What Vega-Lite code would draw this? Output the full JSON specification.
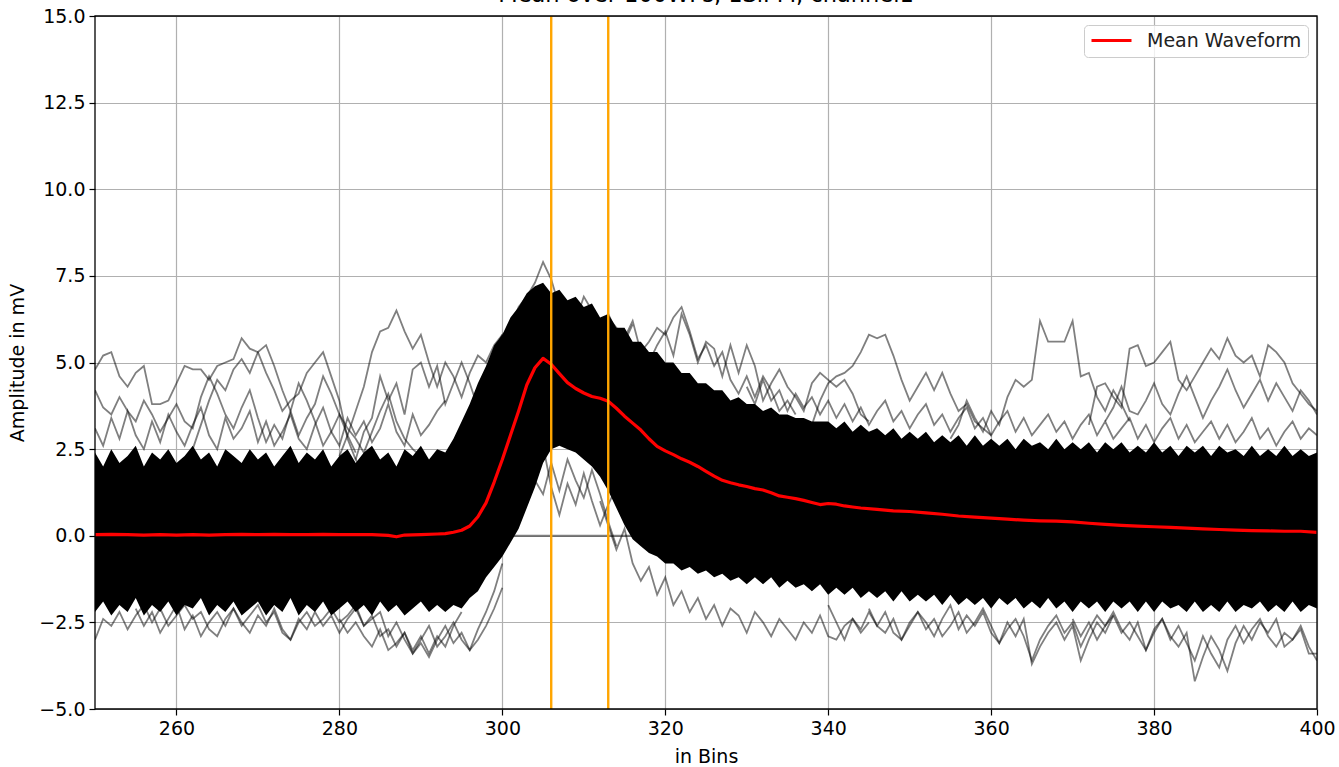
{
"$schema": "https://vega.github.io/schema/vega-lite/v6.json",
"autosize": "none",
"width": 1222,
"height": 693,
"padding": {"left": 95, "top": 16, "right": 22, "bottom": 58},
"background": "white",
"title": {"text": "Mean over 100WFs, 1SiPM, channel1", "fontSize": 22.5, "fontWeight": "normal", "font": "DejaVu Sans", "color": "black", "anchor": "middle", "offset": 0, "dy": 17, "baseline": "alphabetic"},
"datasets": {
"band": [
{"b":250,"lo":-2.2,"hi":2.4},{"b":251,"lo":-1.9,"hi":2.0},{"b":252,"lo":-2.3,"hi":2.5},{"b":253,"lo":-2.0,"hi":2.1},{"b":254,"lo":-2.2,"hi":2.3},{"b":255,"lo":-1.8,"hi":2.6},{"b":256,"lo":-2.3,"hi":2.0},{"b":257,"lo":-2.0,"hi":2.4},{"b":258,"lo":-2.2,"hi":2.2},{"b":259,"lo":-1.9,"hi":2.5},
{"b":260,"lo":-2.3,"hi":2.1},{"b":261,"lo":-2.0,"hi":2.3},{"b":262,"lo":-2.1,"hi":2.6},{"b":263,"lo":-1.8,"hi":2.2},{"b":264,"lo":-2.3,"hi":2.4},{"b":265,"lo":-2.0,"hi":2.0},{"b":266,"lo":-2.2,"hi":2.5},{"b":267,"lo":-1.9,"hi":2.3},{"b":268,"lo":-2.3,"hi":2.1},{"b":269,"lo":-2.1,"hi":2.5},
{"b":270,"lo":-1.9,"hi":2.2},{"b":271,"lo":-2.3,"hi":2.4},{"b":272,"lo":-2.0,"hi":2.0},{"b":273,"lo":-2.2,"hi":2.3},{"b":274,"lo":-1.8,"hi":2.6},{"b":275,"lo":-2.3,"hi":2.1},{"b":276,"lo":-2.0,"hi":2.4},{"b":277,"lo":-2.2,"hi":2.2},{"b":278,"lo":-1.9,"hi":2.5},{"b":279,"lo":-2.3,"hi":2.0},
{"b":280,"lo":-2.1,"hi":2.3},{"b":281,"lo":-1.9,"hi":2.5},{"b":282,"lo":-2.2,"hi":2.1},{"b":283,"lo":-2.0,"hi":2.4},{"b":284,"lo":-2.3,"hi":2.6},{"b":285,"lo":-1.9,"hi":2.2},{"b":286,"lo":-2.2,"hi":2.4},{"b":287,"lo":-2.0,"hi":2.0},{"b":288,"lo":-2.3,"hi":2.5},{"b":289,"lo":-2.1,"hi":2.3},
{"b":290,"lo":-1.9,"hi":2.6},{"b":291,"lo":-2.2,"hi":2.2},{"b":292,"lo":-2.0,"hi":2.5},{"b":293,"lo":-2.2,"hi":2.4},{"b":294,"lo":-2.0,"hi":2.8},{"b":295,"lo":-2.1,"hi":3.3},{"b":296,"lo":-1.8,"hi":3.8},{"b":297,"lo":-1.6,"hi":4.4},{"b":298,"lo":-1.2,"hi":4.9},{"b":299,"lo":-0.9,"hi":5.5},
{"b":300,"lo":-0.6,"hi":5.8},{"b":301,"lo":-0.2,"hi":6.3},{"b":302,"lo":0.2,"hi":6.6},{"b":303,"lo":0.8,"hi":7.0},{"b":304,"lo":1.4,"hi":7.2},{"b":305,"lo":2.1,"hi":7.3},{"b":306,"lo":2.5,"hi":7.0},{"b":307,"lo":2.6,"hi":7.1},{"b":308,"lo":2.5,"hi":6.8},{"b":309,"lo":2.4,"hi":6.9},
{"b":310,"lo":2.2,"hi":6.6},{"b":311,"lo":2.0,"hi":6.7},{"b":312,"lo":1.7,"hi":6.3},{"b":313,"lo":1.3,"hi":6.4},{"b":314,"lo":0.8,"hi":6.0},{"b":315,"lo":0.3,"hi":6.0},{"b":316,"lo":-0.1,"hi":5.6},{"b":317,"lo":-0.3,"hi":5.6},{"b":318,"lo":-0.5,"hi":5.3},{"b":319,"lo":-0.6,"hi":5.3},
{"b":320,"lo":-0.8,"hi":5.0},{"b":321,"lo":-0.8,"hi":5.0},{"b":322,"lo":-1.0,"hi":4.7},{"b":323,"lo":-0.9,"hi":4.7},{"b":324,"lo":-1.1,"hi":4.4},{"b":325,"lo":-1.0,"hi":4.4},{"b":326,"lo":-1.2,"hi":4.2},{"b":327,"lo":-1.1,"hi":4.2},{"b":328,"lo":-1.3,"hi":3.9},{"b":329,"lo":-1.2,"hi":4.0},
{"b":330,"lo":-1.4,"hi":3.8},{"b":331,"lo":-1.2,"hi":3.8},{"b":332,"lo":-1.4,"hi":3.6},{"b":333,"lo":-1.2,"hi":3.7},{"b":334,"lo":-1.5,"hi":3.5},{"b":335,"lo":-1.3,"hi":3.5},{"b":336,"lo":-1.5,"hi":3.4},{"b":337,"lo":-1.4,"hi":3.4},{"b":338,"lo":-1.6,"hi":3.3},{"b":339,"lo":-1.4,"hi":3.3},
{"b":340,"lo":-1.7,"hi":3.3},{"b":341,"lo":-1.5,"hi":3.1},{"b":342,"lo":-1.7,"hi":3.3},{"b":343,"lo":-1.5,"hi":3.0},{"b":344,"lo":-1.8,"hi":3.2},{"b":345,"lo":-1.6,"hi":3.0},{"b":346,"lo":-1.8,"hi":3.1},{"b":347,"lo":-1.6,"hi":2.9},{"b":348,"lo":-1.9,"hi":3.1},{"b":349,"lo":-1.6,"hi":2.8},
{"b":350,"lo":-1.9,"hi":3.0},{"b":351,"lo":-1.7,"hi":2.8},{"b":352,"lo":-1.9,"hi":3.0},{"b":353,"lo":-1.7,"hi":2.7},{"b":354,"lo":-2.0,"hi":2.9},{"b":355,"lo":-1.7,"hi":2.7},{"b":356,"lo":-2.0,"hi":2.9},{"b":357,"lo":-1.8,"hi":2.6},{"b":358,"lo":-2.0,"hi":2.9},{"b":359,"lo":-1.8,"hi":2.6},
{"b":360,"lo":-2.1,"hi":2.8},{"b":361,"lo":-1.8,"hi":2.6},{"b":362,"lo":-2.0,"hi":2.8},{"b":363,"lo":-1.8,"hi":2.5},{"b":364,"lo":-2.1,"hi":2.8},{"b":365,"lo":-1.9,"hi":2.6},{"b":366,"lo":-2.1,"hi":2.7},{"b":367,"lo":-1.8,"hi":2.5},{"b":368,"lo":-2.1,"hi":2.8},{"b":369,"lo":-1.9,"hi":2.5},
{"b":370,"lo":-2.2,"hi":2.7},{"b":371,"lo":-1.9,"hi":2.5},{"b":372,"lo":-2.1,"hi":2.7},{"b":373,"lo":-1.9,"hi":2.4},{"b":374,"lo":-2.2,"hi":2.7},{"b":375,"lo":-1.9,"hi":2.5},{"b":376,"lo":-2.1,"hi":2.7},{"b":377,"lo":-1.9,"hi":2.4},{"b":378,"lo":-2.2,"hi":2.6},{"b":379,"lo":-1.9,"hi":2.4},
{"b":380,"lo":-2.2,"hi":2.7},{"b":381,"lo":-1.9,"hi":2.4},{"b":382,"lo":-2.1,"hi":2.6},{"b":383,"lo":-2.0,"hi":2.3},{"b":384,"lo":-2.2,"hi":2.6},{"b":385,"lo":-1.9,"hi":2.4},{"b":386,"lo":-2.2,"hi":2.6},{"b":387,"lo":-2.0,"hi":2.3},{"b":388,"lo":-2.2,"hi":2.6},{"b":389,"lo":-1.9,"hi":2.4},
{"b":390,"lo":-2.2,"hi":2.5},{"b":391,"lo":-2.0,"hi":2.3},{"b":392,"lo":-2.1,"hi":2.6},{"b":393,"lo":-1.9,"hi":2.3},{"b":394,"lo":-2.2,"hi":2.5},{"b":395,"lo":-2.0,"hi":2.3},{"b":396,"lo":-2.2,"hi":2.6},{"b":397,"lo":-1.9,"hi":2.3},{"b":398,"lo":-2.2,"hi":2.5},{"b":399,"lo":-2.0,"hi":2.3},
{"b":400,"lo":-2.1,"hi":2.4}
],
"mean": [
{"b":250,"v":0.03},{"b":252,"v":0.04},{"b":254,"v":0.03},{"b":256,"v":0.02},{"b":258,"v":0.03},{"b":260,"v":0.02},{"b":262,"v":0.03},{"b":264,"v":0.02},{"b":266,"v":0.03},{"b":268,"v":0.04},{"b":270,"v":0.03},{"b":272,"v":0.04},{"b":274,"v":0.03},{"b":276,"v":0.03},{"b":278,"v":0.04},{"b":280,"v":0.03},{"b":282,"v":0.03},{"b":284,"v":0.03},{"b":286,"v":0.01},{"b":287,"v":-0.03},{"b":288,"v":0.02},{"b":290,"v":0.03},{"b":292,"v":0.05},{"b":293,"v":0.06},{"b":294,"v":0.1},{"b":295,"v":0.16},{"b":296,"v":0.28},{"b":297,"v":0.55},{"b":298,"v":0.95},{"b":299,"v":1.55},{"b":300,"v":2.2},{"b":301,"v":2.9},{"b":302,"v":3.6},{"b":303,"v":4.35},{"b":304,"v":4.85},{"b":305,"v":5.12},{"b":306,"v":4.95},{"b":307,"v":4.68},{"b":308,"v":4.42},{"b":309,"v":4.25},{"b":310,"v":4.12},{"b":311,"v":4.02},{"b":312,"v":3.97},{"b":313,"v":3.88},{"b":314,"v":3.68},{"b":315,"v":3.45},{"b":316,"v":3.25},{"b":317,"v":3.05},{"b":318,"v":2.8},{"b":319,"v":2.58},{"b":320,"v":2.45},{"b":321,"v":2.34},{"b":322,"v":2.22},{"b":323,"v":2.12},{"b":324,"v":2.0},{"b":325,"v":1.86},{"b":326,"v":1.72},{"b":327,"v":1.6},{"b":328,"v":1.53},{"b":329,"v":1.47},{"b":330,"v":1.42},{"b":331,"v":1.36},{"b":332,"v":1.32},{"b":333,"v":1.24},{"b":334,"v":1.15},{"b":335,"v":1.11},{"b":336,"v":1.07},{"b":337,"v":1.02},{"b":338,"v":0.96},{"b":339,"v":0.9},{"b":340,"v":0.93},{"b":341,"v":0.91},{"b":342,"v":0.86},{"b":343,"v":0.83},{"b":344,"v":0.8},{"b":346,"v":0.76},{"b":348,"v":0.72},{"b":350,"v":0.7},{"b":352,"v":0.66},{"b":354,"v":0.62},{"b":356,"v":0.57},{"b":358,"v":0.54},{"b":360,"v":0.51},{"b":362,"v":0.48},{"b":364,"v":0.45},{"b":366,"v":0.43},{"b":368,"v":0.42},{"b":370,"v":0.4},{"b":372,"v":0.36},{"b":374,"v":0.33},{"b":376,"v":0.3},{"b":378,"v":0.28},{"b":380,"v":0.26},{"b":382,"v":0.24},{"b":384,"v":0.22},{"b":386,"v":0.2},{"b":388,"v":0.18},{"b":390,"v":0.16},{"b":392,"v":0.15},{"b":394,"v":0.14},{"b":396,"v":0.13},{"b":398,"v":0.13},{"b":400,"v":0.1}
],
"tr": [
{"id":"a","b":250,"v":4.8},{"id":"a","b":251,"v":5.2},{"id":"a","b":252,"v":5.3},{"id":"a","b":253,"v":4.6},{"id":"a","b":254,"v":4.3},{"id":"a","b":255,"v":4.7},{"id":"a","b":256,"v":4.9},{"id":"a","b":257,"v":3.8},{"id":"a","b":258,"v":3.8},{"id":"a","b":259,"v":3.9},{"id":"a","b":260,"v":4.4},{"id":"a","b":261,"v":4.9},{"id":"a","b":262,"v":4.8},{"id":"a","b":263,"v":4.8},{"id":"a","b":264,"v":4.5},{"id":"a","b":265,"v":4.9},{"id":"a","b":266,"v":5.0},{"id":"a","b":267,"v":5.1},{"id":"a","b":268,"v":5.7},{"id":"a","b":269,"v":5.4},{"id":"a","b":270,"v":5.3},{"id":"a","b":271,"v":4.7},{"id":"a","b":272,"v":4.2},{"id":"a","b":273,"v":3.6},{"id":"a","b":274,"v":3.9},{"id":"a","b":275,"v":4.1},{"id":"a","b":276,"v":4.7},{"id":"a","b":277,"v":5.0},{"id":"a","b":278,"v":5.3},{"id":"a","b":279,"v":4.6},{"id":"a","b":280,"v":3.9},{"id":"a","b":281,"v":2.8},{"id":"a","b":282,"v":2.2},{"id":"a","b":283,"v":1.8},
{"id":"b","b":250,"v":4.2},{"id":"b","b":251,"v":3.7},{"id":"b","b":252,"v":3.5},{"id":"b","b":253,"v":4.0},{"id":"b","b":254,"v":3.6},{"id":"b","b":255,"v":3.3},{"id":"b","b":256,"v":3.9},{"id":"b","b":257,"v":3.5},{"id":"b","b":258,"v":3.0},{"id":"b","b":259,"v":3.4},{"id":"b","b":260,"v":3.8},{"id":"b","b":261,"v":3.3},{"id":"b","b":262,"v":3.1},{"id":"b","b":263,"v":4.0},{"id":"b","b":264,"v":4.6},{"id":"b","b":265,"v":4.1},{"id":"b","b":266,"v":3.5},{"id":"b","b":267,"v":3.1},{"id":"b","b":268,"v":3.7},{"id":"b","b":269,"v":4.2},{"id":"b","b":270,"v":3.4},{"id":"b","b":271,"v":2.7},{"id":"b","b":272,"v":3.2},{"id":"b","b":273,"v":2.8},{"id":"b","b":274,"v":3.6},{"id":"b","b":275,"v":4.4},{"id":"b","b":276,"v":3.9},{"id":"b","b":277,"v":3.3},{"id":"b","b":278,"v":2.6},{"id":"b","b":279,"v":3.0},{"id":"b","b":280,"v":3.5},{"id":"b","b":281,"v":2.9},{"id":"b","b":282,"v":2.4},
{"id":"c","b":262,"v":2.5},{"id":"c","b":263,"v":3.2},{"id":"c","b":264,"v":3.9},{"id":"c","b":265,"v":4.5},{"id":"c","b":266,"v":4.2},{"id":"c","b":267,"v":4.8},{"id":"c","b":268,"v":5.1},{"id":"c","b":269,"v":4.7},{"id":"c","b":270,"v":5.3},{"id":"c","b":271,"v":5.5},{"id":"c","b":272,"v":4.9},{"id":"c","b":273,"v":4.2},{"id":"c","b":274,"v":3.6},{"id":"c","b":275,"v":2.9},{"id":"c","b":276,"v":3.4},{"id":"c","b":277,"v":3.8},{"id":"c","b":278,"v":4.6},{"id":"c","b":279,"v":4.1},{"id":"c","b":280,"v":3.5},{"id":"c","b":281,"v":3.1},{"id":"c","b":282,"v":2.8},{"id":"c","b":283,"v":2.4},{"id":"c","b":284,"v":3.0},{"id":"c","b":285,"v":3.6},{"id":"c","b":286,"v":4.1},{"id":"c","b":287,"v":3.3},{"id":"c","b":288,"v":2.8},{"id":"c","b":289,"v":2.5},{"id":"c","b":290,"v":2.3},
{"id":"d","b":280,"v":2.3},{"id":"d","b":281,"v":2.9},{"id":"d","b":282,"v":3.6},{"id":"d","b":283,"v":4.3},{"id":"d","b":284,"v":5.3},{"id":"d","b":285,"v":5.9},{"id":"d","b":286,"v":6.0},{"id":"d","b":287,"v":6.5},{"id":"d","b":288,"v":5.9},{"id":"d","b":289,"v":5.4},{"id":"d","b":290,"v":5.8},{"id":"d","b":291,"v":5.0},{"id":"d","b":292,"v":4.3},{"id":"d","b":293,"v":5.0},{"id":"d","b":294,"v":4.6},{"id":"d","b":295,"v":4.0},{"id":"d","b":296,"v":4.7},{"id":"d","b":297,"v":5.2},{"id":"d","b":298,"v":5.0},{"id":"d","b":299,"v":5.5},{"id":"d","b":300,"v":5.8},
{"id":"e","b":282,"v":2.2},{"id":"e","b":283,"v":3.0},{"id":"e","b":284,"v":3.4},{"id":"e","b":285,"v":4.6},{"id":"e","b":286,"v":3.9},{"id":"e","b":287,"v":4.4},{"id":"e","b":288,"v":3.5},{"id":"e","b":289,"v":4.8},{"id":"e","b":290,"v":5.0},{"id":"e","b":291,"v":4.3},{"id":"e","b":292,"v":4.9},{"id":"e","b":293,"v":3.8},{"id":"e","b":294,"v":4.4},{"id":"e","b":295,"v":5.0},{"id":"e","b":296,"v":4.4},{"id":"e","b":297,"v":3.7},{"id":"e","b":298,"v":4.6},
{"id":"f","b":298,"v":4.6},{"id":"f","b":299,"v":5.3},{"id":"f","b":300,"v":5.8},{"id":"f","b":301,"v":6.0},{"id":"f","b":302,"v":6.6},{"id":"f","b":303,"v":6.9},{"id":"f","b":304,"v":7.3},{"id":"f","b":305,"v":7.9},{"id":"f","b":306,"v":7.4},{"id":"f","b":307,"v":6.6},{"id":"f","b":308,"v":6.7},{"id":"f","b":309,"v":6.2},{"id":"f","b":310,"v":6.9},{"id":"f","b":311,"v":6.5},{"id":"f","b":312,"v":6.0},{"id":"f","b":313,"v":6.4},{"id":"f","b":314,"v":5.9},{"id":"f","b":315,"v":5.6},{"id":"f","b":316,"v":6.1},
{"id":"g","b":312,"v":5.6},{"id":"g","b":313,"v":6.3},{"id":"g","b":314,"v":6.0},{"id":"g","b":315,"v":5.7},{"id":"g","b":316,"v":6.2},{"id":"g","b":317,"v":5.3},{"id":"g","b":318,"v":5.6},{"id":"g","b":319,"v":6.0},{"id":"g","b":320,"v":5.8},{"id":"g","b":321,"v":6.3},{"id":"g","b":322,"v":6.6},{"id":"g","b":323,"v":5.9},{"id":"g","b":324,"v":5.1},{"id":"g","b":325,"v":5.5},{"id":"g","b":326,"v":4.9},{"id":"g","b":327,"v":5.3},{"id":"g","b":328,"v":4.5},{"id":"g","b":329,"v":4.1},{"id":"g","b":330,"v":4.6},{"id":"g","b":331,"v":4.0},{"id":"g","b":332,"v":4.6},{"id":"g","b":333,"v":4.2},{"id":"g","b":334,"v":3.6},{"id":"g","b":335,"v":3.9},{"id":"g","b":336,"v":3.5},
{"id":"h","b":318,"v":5.0},{"id":"h","b":319,"v":5.5},{"id":"h","b":320,"v":5.9},{"id":"h","b":321,"v":5.2},{"id":"h","b":322,"v":6.4},{"id":"h","b":323,"v":5.8},{"id":"h","b":324,"v":5.0},{"id":"h","b":325,"v":5.6},{"id":"h","b":326,"v":5.4},{"id":"h","b":327,"v":4.6},{"id":"h","b":328,"v":5.5},{"id":"h","b":329,"v":4.7},{"id":"h","b":330,"v":5.5},{"id":"h","b":331,"v":4.9},{"id":"h","b":332,"v":3.9},{"id":"h","b":333,"v":4.4},{"id":"h","b":334,"v":4.8},{"id":"h","b":335,"v":4.3},{"id":"h","b":336,"v":4.0},{"id":"h","b":337,"v":3.6},{"id":"h","b":338,"v":4.4},{"id":"h","b":339,"v":4.7},{"id":"h","b":340,"v":4.5},{"id":"h","b":341,"v":4.3},{"id":"h","b":342,"v":4.5},{"id":"h","b":343,"v":4.1},{"id":"h","b":344,"v":3.5},{"id":"h","b":345,"v":3.3},
{"id":"i","b":338,"v":3.2},{"id":"i","b":339,"v":3.9},{"id":"i","b":340,"v":4.4},{"id":"i","b":341,"v":4.6},{"id":"i","b":342,"v":4.7},{"id":"i","b":343,"v":4.9},{"id":"i","b":344,"v":5.3},{"id":"i","b":345,"v":5.8},{"id":"i","b":346,"v":5.7},{"id":"i","b":347,"v":5.8},{"id":"i","b":348,"v":5.2},{"id":"i","b":349,"v":4.5},{"id":"i","b":350,"v":3.9},{"id":"i","b":351,"v":4.3},{"id":"i","b":352,"v":4.7},{"id":"i","b":353,"v":4.2},{"id":"i","b":354,"v":4.7},{"id":"i","b":355,"v":4.1},{"id":"i","b":356,"v":3.6},{"id":"i","b":357,"v":3.8},{"id":"i","b":358,"v":3.3},{"id":"i","b":359,"v":3.1},{"id":"i","b":360,"v":2.9},
{"id":"j","b":355,"v":2.8},{"id":"j","b":356,"v":3.2},{"id":"j","b":357,"v":3.9},{"id":"j","b":358,"v":3.4},{"id":"j","b":359,"v":3.0},{"id":"j","b":360,"v":3.6},{"id":"j","b":361,"v":3.2},{"id":"j","b":362,"v":4.0},{"id":"j","b":363,"v":4.5},{"id":"j","b":364,"v":4.3},{"id":"j","b":365,"v":4.5},{"id":"j","b":366,"v":6.2},{"id":"j","b":367,"v":5.6},{"id":"j","b":368,"v":5.6},{"id":"j","b":369,"v":5.6},{"id":"j","b":370,"v":6.2},{"id":"j","b":371,"v":4.6},{"id":"j","b":372,"v":4.7},{"id":"j","b":373,"v":4.0},{"id":"j","b":374,"v":3.6},{"id":"j","b":375,"v":4.2},{"id":"j","b":376,"v":3.8},{"id":"j","b":377,"v":3.3},
{"id":"k","b":372,"v":3.2},{"id":"k","b":373,"v":4.3},{"id":"k","b":374,"v":4.4},{"id":"k","b":375,"v":4.0},{"id":"k","b":376,"v":3.7},{"id":"k","b":377,"v":5.4},{"id":"k","b":378,"v":5.5},{"id":"k","b":379,"v":4.9},{"id":"k","b":380,"v":5.0},{"id":"k","b":381,"v":5.3},{"id":"k","b":382,"v":5.6},{"id":"k","b":383,"v":4.5},{"id":"k","b":384,"v":4.2},{"id":"k","b":385,"v":4.6},{"id":"k","b":386,"v":5.0},{"id":"k","b":387,"v":5.4},{"id":"k","b":388,"v":5.1},{"id":"k","b":389,"v":5.7},{"id":"k","b":390,"v":5.2},{"id":"k","b":391,"v":5.0},{"id":"k","b":392,"v":5.2},{"id":"k","b":393,"v":4.6},{"id":"k","b":394,"v":5.5},{"id":"k","b":395,"v":5.3},{"id":"k","b":396,"v":5.0},{"id":"k","b":397,"v":4.4},{"id":"k","b":398,"v":4.1},{"id":"k","b":399,"v":3.8},{"id":"k","b":400,"v":3.6},
{"id":"l","b":374,"v":3.3},{"id":"l","b":375,"v":3.7},{"id":"l","b":376,"v":4.3},{"id":"l","b":377,"v":3.6},{"id":"l","b":378,"v":3.5},{"id":"l","b":379,"v":3.9},{"id":"l","b":380,"v":4.4},{"id":"l","b":381,"v":3.8},{"id":"l","b":382,"v":3.5},{"id":"l","b":383,"v":4.1},{"id":"l","b":384,"v":4.6},{"id":"l","b":385,"v":4.0},{"id":"l","b":386,"v":3.4},{"id":"l","b":387,"v":3.9},{"id":"l","b":388,"v":4.3},{"id":"l","b":389,"v":4.8},{"id":"l","b":390,"v":4.2},{"id":"l","b":391,"v":3.7},{"id":"l","b":392,"v":4.1},{"id":"l","b":393,"v":4.5},{"id":"l","b":394,"v":3.9},{"id":"l","b":395,"v":4.4},{"id":"l","b":396,"v":4.0},{"id":"l","b":397,"v":3.6},{"id":"l","b":398,"v":4.2},{"id":"l","b":399,"v":3.9},{"id":"l","b":400,"v":3.5},
{"id":"w","b":250,"v":3.1},{"id":"w","b":251,"v":2.6},{"id":"w","b":252,"v":3.4},{"id":"w","b":253,"v":2.8},{"id":"w","b":254,"v":3.6},{"id":"w","b":255,"v":2.9},{"id":"w","b":256,"v":2.5},{"id":"w","b":257,"v":3.3},{"id":"w","b":258,"v":2.7},{"id":"w","b":259,"v":3.5},{"id":"w","b":260,"v":3.0},{"id":"w","b":261,"v":2.6},{"id":"w","b":262,"v":3.2},{"id":"w","b":263,"v":3.7},{"id":"w","b":264,"v":2.9},{"id":"w","b":265,"v":2.5},{"id":"w","b":266,"v":3.4},{"id":"w","b":267,"v":2.8},{"id":"w","b":268,"v":3.1},{"id":"w","b":269,"v":3.6},{"id":"w","b":270,"v":2.7},{"id":"w","b":271,"v":3.3},{"id":"w","b":272,"v":2.6},{"id":"w","b":273,"v":3.0},{"id":"w","b":274,"v":3.5},{"id":"w","b":275,"v":2.8},{"id":"w","b":276,"v":2.5},{"id":"w","b":277,"v":3.2},{"id":"w","b":278,"v":3.7},{"id":"w","b":279,"v":3.0},{"id":"w","b":280,"v":2.6},{"id":"w","b":281,"v":3.4},{"id":"w","b":282,"v":2.9},{"id":"w","b":283,"v":3.3},{"id":"w","b":284,"v":2.7},{"id":"w","b":285,"v":3.1},{"id":"w","b":286,"v":3.8},{"id":"w","b":287,"v":3.0},{"id":"w","b":288,"v":2.6},{"id":"w","b":289,"v":3.5},{"id":"w","b":290,"v":2.9},{"id":"w","b":291,"v":3.2},{"id":"w","b":292,"v":3.6},{"id":"w","b":293,"v":3.9},
{"id":"x","b":330,"v":4.3},{"id":"x","b":331,"v":3.8},{"id":"x","b":332,"v":4.5},{"id":"x","b":333,"v":3.9},{"id":"x","b":334,"v":4.2},{"id":"x","b":335,"v":3.6},{"id":"x","b":336,"v":4.1},{"id":"x","b":337,"v":3.7},{"id":"x","b":338,"v":4.0},{"id":"x","b":339,"v":3.5},{"id":"x","b":340,"v":3.9},{"id":"x","b":341,"v":3.4},{"id":"x","b":342,"v":3.8},{"id":"x","b":343,"v":3.3},{"id":"x","b":344,"v":3.7},{"id":"x","b":345,"v":3.2},{"id":"x","b":346,"v":3.6},{"id":"x","b":347,"v":3.9},{"id":"x","b":348,"v":3.3},{"id":"x","b":349,"v":3.6},{"id":"x","b":350,"v":3.1},{"id":"x","b":351,"v":3.5},{"id":"x","b":352,"v":3.8},{"id":"x","b":353,"v":3.2},{"id":"x","b":354,"v":3.5},{"id":"x","b":355,"v":3.0},{"id":"x","b":356,"v":3.4},{"id":"x","b":357,"v":3.7},{"id":"x","b":358,"v":3.1},{"id":"x","b":359,"v":3.4},{"id":"x","b":360,"v":2.9},{"id":"x","b":361,"v":3.3},{"id":"x","b":362,"v":3.6},{"id":"x","b":363,"v":3.0},{"id":"x","b":364,"v":3.4},{"id":"x","b":365,"v":2.9},{"id":"x","b":366,"v":3.2},{"id":"x","b":367,"v":3.5},{"id":"x","b":368,"v":3.0},{"id":"x","b":369,"v":3.3},{"id":"x","b":370,"v":2.8},{"id":"x","b":371,"v":3.2},{"id":"x","b":372,"v":3.5},{"id":"x","b":373,"v":2.9},{"id":"x","b":374,"v":3.3},{"id":"x","b":375,"v":2.8},{"id":"x","b":376,"v":3.1},{"id":"x","b":377,"v":3.4},{"id":"x","b":378,"v":2.8},{"id":"x","b":379,"v":3.2},{"id":"x","b":380,"v":2.7},{"id":"x","b":381,"v":3.1},{"id":"x","b":382,"v":3.4},{"id":"x","b":383,"v":2.8},{"id":"x","b":384,"v":3.2},{"id":"x","b":385,"v":2.7},{"id":"x","b":386,"v":3.0},{"id":"x","b":387,"v":3.3},{"id":"x","b":388,"v":2.8},{"id":"x","b":389,"v":3.2},{"id":"x","b":390,"v":2.7},{"id":"x","b":391,"v":3.0},{"id":"x","b":392,"v":3.4},{"id":"x","b":393,"v":2.8},{"id":"x","b":394,"v":3.1},{"id":"x","b":395,"v":2.6},{"id":"x","b":396,"v":3.0},{"id":"x","b":397,"v":3.3},{"id":"x","b":398,"v":2.8},{"id":"x","b":399,"v":3.1},{"id":"x","b":400,"v":2.9},
{"id":"m","b":250,"v":-3.0},{"id":"m","b":251,"v":-2.4},{"id":"m","b":252,"v":-2.6},{"id":"m","b":253,"v":-2.2},{"id":"m","b":254,"v":-2.7},{"id":"m","b":255,"v":-2.3},{"id":"m","b":256,"v":-2.0},{"id":"m","b":257,"v":-2.5},{"id":"m","b":258,"v":-2.1},{"id":"m","b":259,"v":-2.6},{"id":"m","b":260,"v":-2.3},{"id":"m","b":261,"v":-2.0},{"id":"m","b":262,"v":-2.4},{"id":"m","b":263,"v":-2.2},{"id":"m","b":264,"v":-2.7},{"id":"m","b":265,"v":-2.9},{"id":"m","b":266,"v":-2.4},{"id":"m","b":267,"v":-2.1},{"id":"m","b":268,"v":-2.6},{"id":"m","b":269,"v":-2.3},{"id":"m","b":270,"v":-2.0},{"id":"m","b":271,"v":-2.5},{"id":"m","b":272,"v":-2.2},{"id":"m","b":273,"v":-2.8},{"id":"m","b":274,"v":-3.0},{"id":"m","b":275,"v":-2.5},{"id":"m","b":276,"v":-2.2},{"id":"m","b":277,"v":-2.6},{"id":"m","b":278,"v":-2.4},{"id":"m","b":279,"v":-2.1},{"id":"m","b":280,"v":-2.5},{"id":"m","b":281,"v":-2.3},{"id":"m","b":282,"v":-2.0},{"id":"m","b":283,"v":-2.6},{"id":"m","b":284,"v":-2.4},{"id":"m","b":285,"v":-2.2},{"id":"m","b":286,"v":-2.9},{"id":"m","b":287,"v":-2.5},{"id":"m","b":288,"v":-3.0},{"id":"m","b":289,"v":-3.4},{"id":"m","b":290,"v":-3.1},{"id":"m","b":291,"v":-3.5},{"id":"m","b":292,"v":-3.0},{"id":"m","b":293,"v":-2.6},{"id":"m","b":294,"v":-3.1},{"id":"m","b":295,"v":-2.8},{"id":"m","b":296,"v":-3.3},{"id":"m","b":297,"v":-3.0},{"id":"m","b":298,"v":-2.6},{"id":"m","b":299,"v":-2.1},{"id":"m","b":300,"v":-1.5},
{"id":"m2","b":255,"v":-2.1},{"id":"m2","b":256,"v":-2.6},{"id":"m2","b":257,"v":-2.2},{"id":"m2","b":258,"v":-2.8},{"id":"m2","b":259,"v":-2.4},{"id":"m2","b":260,"v":-2.0},{"id":"m2","b":261,"v":-2.7},{"id":"m2","b":262,"v":-2.3},{"id":"m2","b":263,"v":-2.9},{"id":"m2","b":264,"v":-2.5},{"id":"m2","b":265,"v":-2.2},{"id":"m2","b":266,"v":-2.6},{"id":"m2","b":267,"v":-2.1},{"id":"m2","b":268,"v":-2.5},{"id":"m2","b":269,"v":-2.8},{"id":"m2","b":270,"v":-2.3},{"id":"m2","b":271,"v":-2.6},{"id":"m2","b":272,"v":-2.1},{"id":"m2","b":273,"v":-2.7},{"id":"m2","b":274,"v":-3.0},{"id":"m2","b":275,"v":-2.4},{"id":"m2","b":276,"v":-2.7},{"id":"m2","b":277,"v":-2.2},{"id":"m2","b":278,"v":-2.6},{"id":"m2","b":279,"v":-2.3},{"id":"m2","b":280,"v":-2.8},{"id":"m2","b":281,"v":-2.4},{"id":"m2","b":282,"v":-2.1},{"id":"m2","b":283,"v":-2.6},{"id":"m2","b":284,"v":-2.3},{"id":"m2","b":285,"v":-2.9},{"id":"m2","b":286,"v":-2.7},{"id":"m2","b":287,"v":-3.2},{"id":"m2","b":288,"v":-2.8},{"id":"m2","b":289,"v":-3.3},{"id":"m2","b":290,"v":-2.9},{"id":"m2","b":291,"v":-3.4},{"id":"m2","b":292,"v":-2.9},{"id":"m2","b":293,"v":-3.2},{"id":"m2","b":294,"v":-2.6},{"id":"m2","b":295,"v":-2.2},
{"id":"n","b":280,"v":-2.4},{"id":"n","b":281,"v":-2.8},{"id":"n","b":282,"v":-2.5},{"id":"n","b":283,"v":-2.9},{"id":"n","b":284,"v":-3.2},{"id":"n","b":285,"v":-2.7},{"id":"n","b":286,"v":-3.3},{"id":"n","b":287,"v":-3.1},{"id":"n","b":288,"v":-2.8},{"id":"n","b":289,"v":-3.4},{"id":"n","b":290,"v":-3.0},{"id":"n","b":291,"v":-2.6},{"id":"n","b":292,"v":-3.2},{"id":"n","b":293,"v":-2.9},{"id":"n","b":294,"v":-2.5},{"id":"n","b":295,"v":-3.0},{"id":"n","b":296,"v":-3.3},{"id":"n","b":297,"v":-2.7},{"id":"n","b":298,"v":-2.2},{"id":"n","b":299,"v":-1.6},{"id":"n","b":300,"v":-0.8},
{"id":"o","b":300,"v":-0.3},{"id":"o","b":301,"v":0.2},{"id":"o","b":302,"v":0.8},{"id":"o","b":303,"v":1.5},{"id":"o","b":304,"v":2.0},{"id":"o","b":305,"v":2.6},{"id":"o","b":306,"v":1.4},{"id":"o","b":307,"v":0.6},{"id":"o","b":308,"v":1.5},{"id":"o","b":309,"v":0.9},{"id":"o","b":310,"v":1.8},{"id":"o","b":311,"v":1.0},{"id":"o","b":312,"v":0.3},{"id":"o","b":313,"v":0.9},{"id":"o","b":314,"v":1.4},{"id":"o","b":315,"v":0.6},{"id":"o","b":316,"v":0.2},
{"id":"o2","b":303,"v":0.9},{"id":"o2","b":304,"v":1.6},{"id":"o2","b":305,"v":1.2},{"id":"o2","b":306,"v":2.1},{"id":"o2","b":307,"v":1.3},{"id":"o2","b":308,"v":2.2},{"id":"o2","b":309,"v":1.6},{"id":"o2","b":310,"v":1.1},{"id":"o2","b":311,"v":1.9},{"id":"o2","b":312,"v":1.2},{"id":"o2","b":313,"v":0.4},{"id":"o2","b":314,"v":-0.3},
{"id":"p","b":298,"v":1.0},{"id":"p","b":299,"v":0.7},{"id":"p","b":300,"v":0},{"id":"p","b":305,"v":0},{"id":"p","b":310,"v":0},{"id":"p","b":315,"v":0},{"id":"p","b":320,"v":0},{"id":"p","b":324,"v":0},{"id":"p","b":325,"v":-0.4},
{"id":"q","b":312,"v":1.0},{"id":"q","b":313,"v":0.3},{"id":"q","b":314,"v":-0.4},{"id":"q","b":315,"v":0.2},{"id":"q","b":316,"v":-0.8},{"id":"q","b":317,"v":-1.3},{"id":"q","b":318,"v":-0.9},{"id":"q","b":319,"v":-1.7},{"id":"q","b":320,"v":-1.2},{"id":"q","b":321,"v":-2.0},{"id":"q","b":322,"v":-1.6},{"id":"q","b":323,"v":-2.2},{"id":"q","b":324,"v":-1.8},{"id":"q","b":325,"v":-2.4},{"id":"q","b":326,"v":-2.0},{"id":"q","b":327,"v":-2.6},{"id":"q","b":328,"v":-2.1},{"id":"q","b":329,"v":-2.3},{"id":"q","b":330,"v":-2.8},{"id":"q","b":331,"v":-2.2},{"id":"q","b":332,"v":-2.5},{"id":"q","b":333,"v":-2.9},{"id":"q","b":334,"v":-2.4},{"id":"q","b":335,"v":-2.7},{"id":"q","b":336,"v":-3.0},{"id":"q","b":337,"v":-2.5},{"id":"q","b":338,"v":-2.8},{"id":"q","b":339,"v":-2.3},{"id":"q","b":340,"v":-2.9},{"id":"q","b":341,"v":-3.0},{"id":"q","b":342,"v":-2.6},{"id":"q","b":343,"v":-2.4},{"id":"q","b":344,"v":-2.8},{"id":"q","b":345,"v":-2.5},
{"id":"r","b":340,"v":-2.0},{"id":"r","b":341,"v":-2.5},{"id":"r","b":342,"v":-3.0},{"id":"r","b":343,"v":-2.4},{"id":"r","b":344,"v":-2.7},{"id":"r","b":345,"v":-2.2},{"id":"r","b":346,"v":-2.6},{"id":"r","b":347,"v":-2.8},{"id":"r","b":348,"v":-2.4},{"id":"r","b":349,"v":-3.0},{"id":"r","b":350,"v":-2.6},{"id":"r","b":351,"v":-2.2},{"id":"r","b":352,"v":-2.5},{"id":"r","b":353,"v":-2.9},{"id":"r","b":354,"v":-2.4},{"id":"r","b":355,"v":-2.0},{"id":"r","b":356,"v":-2.7},{"id":"r","b":357,"v":-2.3},{"id":"r","b":358,"v":-2.6},{"id":"r","b":359,"v":-2.2},{"id":"r","b":360,"v":-2.8},{"id":"r","b":361,"v":-3.1},{"id":"r","b":362,"v":-2.5},{"id":"r","b":363,"v":-2.9},{"id":"r","b":364,"v":-2.4},{"id":"r","b":365,"v":-3.7},{"id":"r","b":366,"v":-3.2},{"id":"r","b":367,"v":-2.8},{"id":"r","b":368,"v":-2.5},{"id":"r","b":369,"v":-3.0},{"id":"r","b":370,"v":-2.6},{"id":"r","b":371,"v":-3.6},{"id":"r","b":372,"v":-3.0},{"id":"r","b":373,"v":-2.5},{"id":"r","b":374,"v":-2.8},{"id":"r","b":375,"v":-2.3},
{"id":"s","b":370,"v":-2.4},{"id":"s","b":371,"v":-2.9},{"id":"s","b":372,"v":-2.5},{"id":"s","b":373,"v":-3.0},{"id":"s","b":374,"v":-2.6},{"id":"s","b":375,"v":-2.3},{"id":"s","b":376,"v":-2.8},{"id":"s","b":377,"v":-2.5},{"id":"s","b":378,"v":-2.9},{"id":"s","b":379,"v":-3.3},{"id":"s","b":380,"v":-2.7},{"id":"s","b":381,"v":-2.4},{"id":"s","b":382,"v":-2.9},{"id":"s","b":383,"v":-3.2},{"id":"s","b":384,"v":-2.8},{"id":"s","b":385,"v":-4.2},{"id":"s","b":386,"v":-3.5},{"id":"s","b":387,"v":-2.9},{"id":"s","b":388,"v":-3.3},{"id":"s","b":389,"v":-3.9},{"id":"s","b":390,"v":-3.1},{"id":"s","b":391,"v":-2.6},{"id":"s","b":392,"v":-3.0},{"id":"s","b":393,"v":-2.5},{"id":"s","b":394,"v":-2.8},{"id":"s","b":395,"v":-2.4},{"id":"s","b":396,"v":-3.2},{"id":"s","b":397,"v":-3.0},{"id":"s","b":398,"v":-2.7},{"id":"s","b":399,"v":-3.4},{"id":"s","b":400,"v":-3.4},
{"id":"t","b":345,"v":-2.1},{"id":"t","b":346,"v":-2.6},{"id":"t","b":347,"v":-2.2},{"id":"t","b":348,"v":-2.8},{"id":"t","b":349,"v":-3.0},{"id":"t","b":350,"v":-2.5},{"id":"t","b":351,"v":-2.2},{"id":"t","b":352,"v":-2.7},{"id":"t","b":353,"v":-2.4},{"id":"t","b":354,"v":-2.9},{"id":"t","b":355,"v":-2.6},{"id":"t","b":356,"v":-2.2},{"id":"t","b":357,"v":-2.8},{"id":"t","b":358,"v":-2.5},{"id":"t","b":359,"v":-2.1},{"id":"t","b":360,"v":-2.6},{"id":"t","b":361,"v":-3.1},{"id":"t","b":362,"v":-2.7},{"id":"t","b":363,"v":-2.4},{"id":"t","b":364,"v":-2.9},{"id":"t","b":365,"v":-3.6},{"id":"t","b":366,"v":-3.0},{"id":"t","b":367,"v":-2.6},{"id":"t","b":368,"v":-2.3},{"id":"t","b":369,"v":-2.8},{"id":"t","b":370,"v":-2.5},{"id":"t","b":371,"v":-3.2},{"id":"t","b":372,"v":-2.7},{"id":"t","b":373,"v":-2.3},{"id":"t","b":374,"v":-2.6},{"id":"t","b":375,"v":-2.2},{"id":"t","b":376,"v":-2.7},{"id":"t","b":377,"v":-3.0},{"id":"t","b":378,"v":-2.5},{"id":"t","b":379,"v":-3.3},{"id":"t","b":380,"v":-2.8},{"id":"t","b":381,"v":-2.4},{"id":"t","b":382,"v":-3.0},{"id":"t","b":383,"v":-2.6},{"id":"t","b":384,"v":-3.1},{"id":"t","b":385,"v":-3.6},{"id":"t","b":386,"v":-2.9},{"id":"t","b":387,"v":-3.4},{"id":"t","b":388,"v":-3.8},{"id":"t","b":389,"v":-3.0},{"id":"t","b":390,"v":-2.6},{"id":"t","b":391,"v":-3.1},{"id":"t","b":392,"v":-2.7},{"id":"t","b":393,"v":-2.4},{"id":"t","b":394,"v":-2.9},{"id":"t","b":395,"v":-3.2},{"id":"t","b":396,"v":-2.8},{"id":"t","b":397,"v":-3.0},{"id":"t","b":398,"v":-2.6},{"id":"t","b":399,"v":-3.2},{"id":"t","b":400,"v":-3.6}
],
"vl": [{"b":306},{"b":313}]
},
"layer": [
{
"data": {"name": "tr"},
"mark": {"type": "line", "color": "black", "opacity": 0.5, "strokeWidth": 1.8, "clip": true},
"encoding": {
"x": {"field": "b", "type": "quantitative", "scale": {"domain": [250, 400], "nice": false, "zero": false}, "axis": {"title": "in Bins", "values": [260, 280, 300, 320, 340, 360, 380, 400]}},
"y": {"field": "v", "type": "quantitative", "scale": {"domain": [-5, 15], "nice": false, "zero": false}, "axis": {"title": "Amplitude in mV", "values": [-5, -2.5, 0, 2.5, 5, 7.5, 10, 12.5, 15], "format": ".1f"}},
"detail": {"field": "id", "type": "nominal"}
}
},
{
"data": {"name": "band"},
"mark": {"type": "area", "color": "black", "opacity": 1, "clip": true},
"encoding": {
"x": {"field": "b", "type": "quantitative", "axis": {"title": "in Bins"}},
"y": {"field": "lo", "type": "quantitative", "axis": {"title": "Amplitude in mV"}},
"y2": {"field": "hi"}
}
},
{
"data": {"name": "mean"},
"mark": {"type": "line", "strokeWidth": 3.2, "strokeJoin": "round", "clip": true},
"encoding": {
"x": {"field": "b", "type": "quantitative", "axis": {"title": "in Bins"}},
"y": {"field": "v", "type": "quantitative", "axis": {"title": "Amplitude in mV"}},
"color": {"datum": "Mean Waveform", "type": "nominal", "scale": {"domain": ["Mean Waveform"], "range": ["#ff0000"]}, "legend": {"title": null, "symbolType": "M-1,0H4", "symbolSize": 256, "labelOffset": 38}}
}
},
{
"data": {"name": "vl"},
"mark": {"type": "rule", "color": "#ffa500", "strokeWidth": 2.4},
"encoding": {
"x": {"field": "b", "type": "quantitative", "axis": {"title": "in Bins"}}
}
},
{
"data": {"values": [{}]},
"mark": {"type": "rect", "fill": null, "fillOpacity": 0, "stroke": "black", "strokeWidth": 1.3},
"encoding": {
"x": {"datum": 250, "type": "quantitative", "axis": {"title": "in Bins"}},
"x2": {"datum": 400},
"y": {"datum": -5, "type": "quantitative", "axis": {"title": "Amplitude in mV"}},
"y2": {"datum": 15}
}
}
],
"config": {
"font": "DejaVu Sans",
"view": {"stroke": null},
"axis": {"domain": false, "grid": true, "gridColor": "#b0b0b0", "gridWidth": 1.2, "tickColor": "black", "tickSize": 6, "tickWidth": 1.2, "labelFont": "DejaVu Sans", "labelFontSize": 19, "labelColor": "black", "labelPadding": 4, "titleFont": "DejaVu Sans", "titleFontSize": 19, "titleFontWeight": "normal", "titleColor": "black", "labelFlush": false, "labelOverlap": false},
"axisX": {"titlePadding": 9},
"axisY": {"titlePadding": 11},
"legend": {"orient": "top-right", "offset": 9, "fillColor": "rgba(255,255,255,0.8)", "strokeColor": "#cccccc", "cornerRadius": 4, "padding": 6, "labelFont": "DejaVu Sans", "labelFontSize": 19, "labelColor": "#222222", "symbolStrokeWidth": 3}
}
}
